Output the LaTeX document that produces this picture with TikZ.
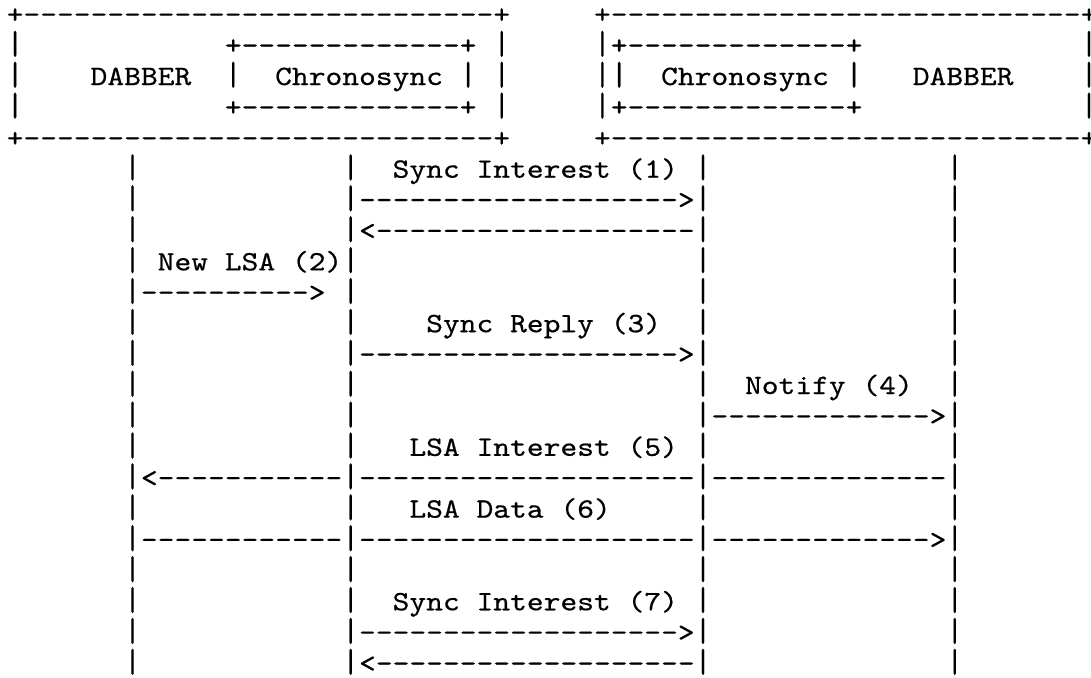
\documentclass[tikz,border=0pt]{standalone}
\usepackage{fontspec}
\newfontfamily\asciifont{lmmono10-regular.otf}[FakeStretch=1.1415,FakeBold=0.5]
\newdimen\asccw \asccw=16.78pt
\makeatletter
\def\asc@dot{.}
\def\asc@bar{|}
\newcommand\asccell[1]{\hbox to\asccw{\hss#1\hss}}
\newcommand\ascbarcell{\hbox to\asccw{\hss\scalebox{1}[1.2]{|}\hss}}
\newcommand\asctext[1]{\@tfor\asc@ch:=#1\do{%
  \ifx\asc@ch\asc@dot\hskip\asccw
  \else\ifx\asc@ch\asc@bar\ascbarcell
  \else\asccell{\asc@ch}\fi\fi}}
\makeatother
\newcommand\ascblank[1]{\hskip#1\asccw}
\newcommand\ascrun[2]{\foreach\ascI in {1,...,#1}{\asccell{#2}}}
\begin{document}
\begin{tikzpicture}[x=1pt,y=-1pt,
  ascline/.style={anchor=base west, inner sep=0pt, outer sep=0pt,
    font=\asciifont\fontsize{28}{31}\selectfont}]
\useasboundingbox (0,0) rectangle (1091,677);
\fill[white] (0,0) rectangle (1091,677);
% boxes
\node[ascline] (row0) at (6.7,23.2) {\asctext{+}\ascrun{28}{-}\asctext{+}\ascblank{5}\asctext{+}\ascrun{28}{-}\asctext{+}};
\node[ascline] (row1) at (6.7,54.1) {\asctext{|}\ascblank{12}\asctext{+}\ascrun{13}{-}\asctext{+.|}\ascblank{5}\asctext{|+}\ascrun{13}{-}\asctext{+}\ascblank{13}\asctext{|}};
\node[ascline] (row2) at (6.7,85.0) {\asctext{|....DABBER..|..Chronosync.|.|}\ascblank{5}\asctext{||..Chronosync.|...DABBER....|}};
\node[ascline] (row3) at (6.7,115.9) {\asctext{|}\ascblank{12}\asctext{+}\ascrun{13}{-}\asctext{+.|}\ascblank{5}\asctext{|+}\ascrun{13}{-}\asctext{+}\ascblank{13}\asctext{|}};
\node[ascline] (row4) at (6.7,146.8) {\asctext{+}\ascrun{28}{-}\asctext{+}\ascblank{5}\asctext{+}\ascrun{28}{-}\asctext{+}};
% message rows
\node[ascline] (row5) at (6.7,177.7) {\ascblank{7}\asctext{|}\ascblank{12}\asctext{|..Sync.Interest.(1).|}\ascblank{14}\asctext{|}};
\node[ascline] (row6) at (6.7,208.6) {\ascblank{7}\asctext{|}\ascblank{12}\asctext{|}\ascrun{19}{-}\asctext{>|}\ascblank{14}\asctext{|}};
\node[ascline] (row7) at (6.7,239.5) {\ascblank{7}\asctext{|}\ascblank{12}\asctext{|<}\ascrun{19}{-}\asctext{|}\ascblank{14}\asctext{|}};
\node[ascline] (row8) at (6.7,270.4) {\ascblank{7}\asctext{|.New.LSA.(2)|}\ascblank{20}\asctext{|}\ascblank{14}\asctext{|}};
\node[ascline] (row9) at (6.7,301.3) {\ascblank{7}\asctext{|}\ascrun{10}{-}\asctext{>.|}\ascblank{20}\asctext{|}\ascblank{14}\asctext{|}};
\node[ascline] (row10) at (6.7,332.2) {\ascblank{7}\asctext{|}\ascblank{12}\asctext{|....Sync.Reply.(3)..|}\ascblank{14}\asctext{|}};
\node[ascline] (row11) at (6.7,363.1) {\ascblank{7}\asctext{|}\ascblank{12}\asctext{|}\ascrun{19}{-}\asctext{>|}\ascblank{14}\asctext{|}};
\node[ascline] (row12) at (6.7,394.0) {\ascblank{7}\asctext{|}\ascblank{12}\asctext{|}\ascblank{20}\asctext{|..Notify.(4)..|}};
\node[ascline] (row13) at (6.7,424.9) {\ascblank{7}\asctext{|}\ascblank{12}\asctext{|}\ascblank{20}\asctext{|}\ascrun{13}{-}\asctext{>|}};
\node[ascline] (row14) at (6.7,455.8) {\ascblank{7}\asctext{|}\ascblank{12}\asctext{|...LSA.Interest.(5).|}\ascblank{14}\asctext{|}};
\node[ascline] (row15) at (6.7,486.7) {\ascblank{7}\asctext{|<}\ascrun{11}{-}\asctext{|}\ascrun{20}{-}\asctext{|}\ascrun{14}{-}\asctext{|}};
\node[ascline] (row16) at (6.7,517.6) {\ascblank{7}\asctext{|}\ascblank{12}\asctext{|...LSA.Data.(6).....|}\ascblank{14}\asctext{|}};
\node[ascline] (row17) at (6.7,548.5) {\ascblank{7}\asctext{|}\ascrun{12}{-}\asctext{|}\ascrun{20}{-}\asctext{|}\ascrun{13}{-}\asctext{>|}};
\node[ascline] (row18) at (6.7,579.4) {\ascblank{7}\asctext{|}\ascblank{12}\asctext{|}\ascblank{20}\asctext{|}\ascblank{14}\asctext{|}};
\node[ascline] (row19) at (6.7,610.3) {\ascblank{7}\asctext{|}\ascblank{12}\asctext{|..Sync.Interest.(7).|}\ascblank{14}\asctext{|}};
\node[ascline] (row20) at (6.7,641.2) {\ascblank{7}\asctext{|}\ascblank{12}\asctext{|}\ascrun{19}{-}\asctext{>|}\ascblank{14}\asctext{|}};
\node[ascline] (row21) at (6.7,672.1) {\ascblank{7}\asctext{|}\ascblank{12}\asctext{|<}\ascrun{19}{-}\asctext{|}\ascblank{14}\asctext{|}};
\end{tikzpicture}
\end{document}
